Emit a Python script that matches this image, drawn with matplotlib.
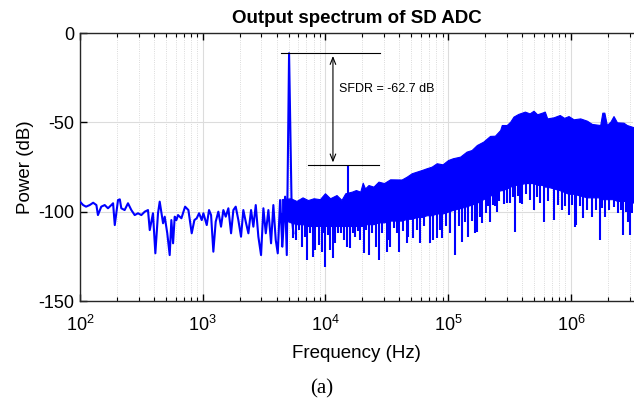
import numpy as np
import matplotlib
matplotlib.use('Agg')
import matplotlib.pyplot as plt

plt.rcParams['font.family'] = ['Liberation Sans', 'DejaVu Sans']
plt.rcParams['mathtext.fontset'] = 'custom'
plt.rcParams['mathtext.rm'] = 'Liberation Sans'
plt.rcParams['axes.unicode_minus'] = False

# low frequency part of the spectrum (single trace)
line_freq = [100, 106, 112, 120, 128, 136, 140, 149, 159, 169, 180, 186, 192, 204, 211,
             217, 231, 246, 262, 279, 297, 316, 337, 358, 370, 393, 411, 432, 446, 475,
             490, 514, 538, 555, 573, 591, 610, 629, 670, 718, 764, 813, 855, 893, 933,
             981, 1012, 1078, 1125, 1169, 1220, 1275, 1340, 1409, 1472, 1539, 1617, 1701,
             1776, 1856, 1950, 2050, 2141, 2240, 2354, 2475, 2584, 2703, 2838, 2985, 3119,
             3262, 3425, 3601, 3760, 3933, 4084, 4267, 4455, 4686, 4838, 5050, 5313, 5476]
line_db = [-94.4, -96.3, -97.2, -96.3, -95.0, -96.3, -101.9, -97.2, -96.3, -98.1, -96.3,
           -95.3, -107.5, -93.5, -93.1, -98.1, -99.1, -95.3, -99.1, -101.9, -100.9, -101.9,
           -100.0, -99.1, -110.3, -100.9, -123.3, -100.9, -94.4, -106.5, -102.8, -112.1,
           -124.3, -104.7, -117.7, -102.8, -104.7, -101.9, -103.7, -97.2, -99.1, -112.1,
           -104.7, -103.7, -100.9, -104.7, -100.9, -107.5, -99.1, -101.9, -122.4, -105.6,
           -100.0, -108.4, -99.1, -102.8, -98.1, -112.1, -99.1, -97.2, -104.7, -114.0,
           -99.1, -105.6, -112.1, -99.1, -108.4, -96.3, -114.0, -124.3, -98.1, -112.1,
           -99.1, -117.7, -96.3, -115.9, -123.3, -93.5, -119.6, -91.6, -124.3, -11.3,
           -102.8, -112.1]

# dense noise band above ~4 kHz: upper and lower edge of the solid region
band_freq = [4.4e3, 5.2e3, 5.8e3, 6.5e3, 7.2e3, 8.0e3, 9.0e3, 9.9e3, 1.09e4, 1.23e4,
             1.35e4, 1.45e4, 1.64e4, 1.77e4, 1.92e4, 2.01e4, 2.1e4, 2.24e4, 2.46e4, 2.7e4,
             3.0e4, 3.36e4, 4.17e4, 4.59e4, 5.04e4, 5.53e4, 6.07e4, 6.67e4, 7.33e4, 8.05e4,
             9.0e4, 9.97e4, 1.09e5, 1.25e5, 1.41e5, 1.55e5, 1.71e5, 1.93e5, 2.19e5, 2.4e5,
             2.65e5, 2.73e5, 3.0e5, 3.2e5, 3.4e5, 3.72e5, 4.21e5, 4.6e5, 4.95e5, 5.3e5,
             5.8e5, 6.12e5, 6.4e5, 7.21e5, 8.1e5, 8.8e5, 9.55e5, 1.05e6, 1.19e6, 1.35e6,
             1.48e6, 1.73e6, 1.8e6, 1.87e6, 1.96e6, 2.1e6, 2.22e6, 2.37e6, 2.68e6, 2.85e6,
             3.26e6]
band_top = [-93.0, -92.5, -94.0, -92.0, -93.5, -92.5, -93.0, -89.7, -92.5, -90.7,
            -93.4, -89.7, -88.8, -87.9, -88.8, -83.8, -87.0, -85.1, -86.0, -83.2,
            -84.0, -81.9, -82.0, -80.4, -78.5, -77.6, -76.7, -75.7, -74.8, -72.9,
            -73.5, -71.1, -70.1, -69.2, -66.4, -65.5, -62.7, -60.8, -57.6, -57.5,
            -54.3, -51.5, -51.5, -49.6, -46.8, -45.3, -44.0, -45.0, -43.5, -45.5,
            -44.6, -44.0, -47.8, -47.2, -45.9, -47.5, -46.5, -48.3, -47.8, -49.1,
            -50.9, -51.5, -44.6, -44.6, -51.5, -49.5, -46.5, -50.0, -50.2, -51.5,
            -52.8]
band_bot = [-104, -106, -107, -107, -108, -108, -108, -108, -108, -108,
            -108, -108, -108, -108, -108, -108, -107, -107, -107, -106,
            -106, -105, -105, -104, -104, -103, -103, -102, -102, -101,
            -101, -100, -99, -98, -97, -96, -95, -93, -91, -90,
            -88, -88, -87, -86, -85, -85, -84, -84, -84, -85,
            -85, -86, -86, -87, -88, -89, -90, -90, -91, -92,
            -92, -92, -93, -93, -93, -93, -93, -94, -94, -94,
            -95]

# downward spikes below the band
spike_freq = [4.4e3, 5.47e3, 5.8e3, 6.1e3, 6.4e3, 6.82e3, 7.05e3, 7.5e3, 7.97e3, 8.22e3,
              8.8e3, 9.3e3, 9.6e3, 9.99e3, 1.05e4, 1.08e4, 1.15e4, 1.2e4, 1.27e4, 1.35e4,
              1.42e4, 1.49e4, 1.59e4, 1.67e4, 1.74e4, 1.83e4, 1.92e4, 2.04e4, 2.15e4, 2.28e4,
              2.4e4, 2.58e4, 2.74e4, 2.9e4, 3.16e4, 3.28e4, 3.36e4, 3.6e4, 3.8e4, 3.98e4,
              4.3e4, 4.6e4, 4.74e4, 5.2e4, 5.6e4, 5.9e4, 6.4e4, 7.06e4, 7.58e4, 8.05e4,
              8.6e4, 8.92e4, 9.5e4, 1.04e5, 1.14e5, 1.22e5, 1.29e5, 1.37e5, 1.46e5, 1.56e5,
              1.66e5, 1.71e5, 1.8e5, 1.88e5, 2.03e5, 2.12e5, 2.19e5, 2.3e5, 2.41e5, 2.48e5,
              2.6e5, 2.82e5, 3.0e5, 3.2e5, 3.35e5, 3.51e5, 3.7e5, 3.86e5, 3.98e5, 4.3e5,
              4.65e5, 4.95e5, 5.3e5, 5.6e5, 5.98e5, 6.5e5, 7.21e5, 7.8e5, 8.45e5, 9.0e5,
              9.55e5, 1.02e6, 1.08e6, 1.10e6, 1.18e6, 1.26e6, 1.36e6, 1.48e6, 1.6e6, 1.71e6,
              1.8e6, 1.90e6, 2.05e6, 2.22e6, 2.4e6, 2.55e6, 2.64e6, 2.8e6, 2.94e6, 3.03e6,
              3.15e6]
spike_db = [-119.6, -114.9, -115.9, -110.0, -119.6, -114.0, -127.0, -112.0, -125.2, -121.5,
            -118.7, -122.4, -112.0, -130.8, -113.0, -121.5, -126.1, -117.7, -112.0, -112.1,
            -116.0, -119.6, -120.5, -112.0, -114.0, -111.0, -115.9, -123.3, -110.0, -124.3,
            -112.0, -119.6, -127.0, -112.0, -122.4, -115.9, -119.6, -109.0, -112.0, -122.4,
            -111.0, -117.7, -114.0, -114.9, -110.0, -117.7, -108.0, -117.7, -115.9, -114.9,
            -110.0, -114.9, -108.0, -112.0, -124.3, -108.0, -116.8, -106.0, -114.0, -105.0,
            -112.1, -111.2, -103.0, -106.5, -100.9, -97.0, -105.6, -96.0, -96.6, -100.0,
            -94.0, -95.8, -95.3, -95.2, -92.0, -111.2, -91.0, -95.3, -95.8, -90.0,
            -93.5, -99.1, -92.0, -95.0, -105.6, -94.0, -104.6, -96.0, -99.1, -97.0,
            -101.9, -96.0, -108.4, -107.5, -97.0, -103.7, -99.0, -102.8, -99.0, -115.9,
            -98.0, -102.8, -99.0, -97.2, -101.0, -99.0, -113.1, -100.0, -105.6, -113.1,
            -101.0]

# third harmonic spur
spur_freq = 1.52e4
spur_db = -74.0
tone_db = -11.3

fig = plt.figure(figsize=(6.34, 4.0), dpi=100)
ax = fig.add_axes([80/634, 99/400, 553/634, 268/400])

blue = '#0000ff'
ax.plot(line_freq, line_db, color=blue, lw=1.5, zorder=3)
ax.fill_between(band_freq, band_bot, band_top, color=blue, lw=0.8, edgecolor=blue, zorder=3)
lb = np.log10(band_freq)
spike_top = np.interp(np.log10(spike_freq), lb, band_bot) + 3
ax.vlines(spike_freq, spike_db, spike_top, color=blue, lw=1.5, zorder=3)
spur_base = np.interp(np.log10(spur_freq), lb, band_top) - 2
ax.vlines([spur_freq], [spur_base], [spur_db], color=blue, lw=1.5, zorder=3)

# SFDR annotation
ax.plot([4.35e3, 2.79e4], [tone_db, tone_db], color='k', lw=0.8, zorder=4)
ax.plot([7.2e3, 2.74e4], [spur_db, spur_db], color='k', lw=0.8, zorder=4)
ax.annotate('', xy=(1.15e4, spur_db), xytext=(1.15e4, tone_db),
            arrowprops=dict(arrowstyle='<->,head_length=0.5,head_width=0.2', color='k', lw=0.8),
            zorder=4)
ax.text(1.29e4, -31.3, 'SFDR = -62.7 dB', fontsize=9, va='center', ha='left')

ax.set_xscale('log')
ax.set_xlim(100, 3.2e6)
ax.set_ylim(-150, 0)
ax.set_yticks([-150, -100, -50, 0])
ax.grid(True, which='major', color='#dcdcdc', lw=0.8, ls='-')
ax.grid(True, which='minor', axis='x', color='#cfcfcf', lw=0.6, ls=':')
ax.set_axisbelow(True)
ax.tick_params(which='both', direction='in', top=True, right=False, labelsize=13)
ax.tick_params(which='major', length=5, width=1.0)
ax.tick_params(which='minor', length=3, width=0.8)
ax.tick_params(axis='x', pad=10)
ax.tick_params(axis='y', pad=4)
ax.spines['right'].set_visible(False)
for s in ['left', 'top', 'bottom']:
    ax.spines[s].set_linewidth(1.0)
    ax.spines[s].set_color('#262626')

ax.set_xlabel('Frequency (Hz)', fontsize=13.5, labelpad=7)
ax.set_ylabel('Power (dB)', fontsize=13.5, labelpad=3)
ax.set_title('Output spectrum of SD ADC', fontsize=13.5, fontweight='bold', pad=7)
fig.text(0.507, 0.027, '(a)', fontsize=15, family='Liberation Serif', ha='center', va='center')

fig.savefig('out.png', dpi=100)
